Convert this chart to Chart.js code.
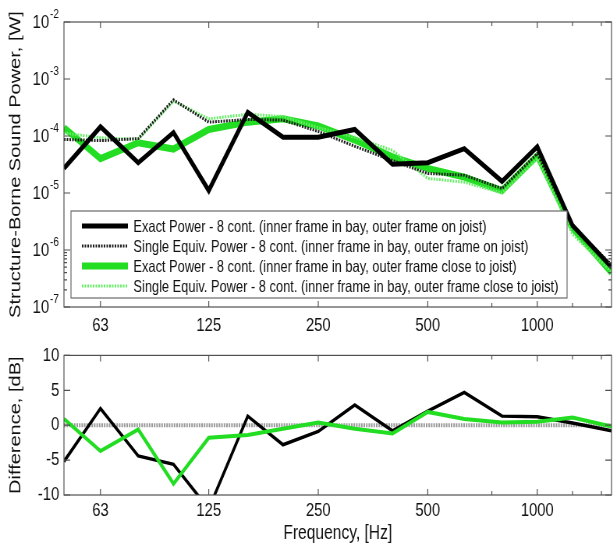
<!DOCTYPE html>
<html>
<head>
<meta charset="utf-8">
<script src="https://cdn.jsdelivr.net/npm/chart.js@4/dist/chart.umd.min.js"></script>
<style>
  html, body { margin: 0; padding: 0; background: #fff; width: 613px; height: 552px; overflow: hidden; }
  /* the figure is drawn wide and then narrowed horizontally */
  .panel { position: absolute; left: 0; transform: scaleX(0.78); transform-origin: 0 0; }
  #powerChart { top: 0; }
  #diffChart { top: 338px; }
</style>
</head>
<body>
<canvas id="powerChart" class="panel" width="786" height="338"></canvas>
<canvas id="diffChart" class="panel" width="786" height="214"></canvas>
<script>
// third-octave band centre frequencies, Hz
const freqs = [50, 63, 80, 100, 125, 160, 200, 250, 315, 400, 500, 630, 800, 1000, 1250, 1600];

// structure-borne sound power, W
const exactOnJoist     = [2.7e-5, 1.45e-4, 3.4e-5, 1.15e-4, 1.1e-5, 2.6e-4, 9.5e-5, 9.5e-5, 1.3e-4, 3.2e-5, 3.4e-5, 6.0e-5, 1.6e-5, 6.5e-5, 2.7e-6, 5.0e-7];
const singleOnJoist    = [8.7e-5, 8.3e-5, 9.0e-5, 4.3e-4, 1.75e-4, 1.95e-4, 1.9e-4, 1.2e-4, 6.6e-5, 3.7e-5, 2.2e-5, 2.05e-5, 1.2e-5, 4.9e-5, 2.6e-6, 5.5e-7];
const exactCloseJoist  = [1.4e-4, 4.0e-5, 7.6e-5, 5.9e-5, 1.3e-4, 1.75e-4, 2.0e-4, 1.5e-4, 8.5e-5, 4.3e-5, 2.7e-5, 1.9e-5, 1.1e-5, 4.5e-5, 2.4e-6, 4.0e-7];
const singleCloseJoist = [1.13e-4, 9.3e-5, 8.7e-5, 4.1e-4, 2.0e-4, 2.4e-4, 2.2e-4, 1.4e-4, 9.5e-5, 5.6e-5, 1.8e-5, 1.55e-5, 1.0e-5, 4.0e-5, 1.9e-6, 4.1e-7];

// exact minus single-equivalent power, dB
const diffOnJoist    = [-5.2, 2.4, -4.4, -5.6, -12.0, 1.3, -2.8, -0.9, 2.9, -0.8, 2.0, 4.7, 1.3, 1.2, 0.3, -0.8];
const diffCloseJoist = [0.9, -3.7, -0.6, -8.4, -1.8, -1.4, -0.5, 0.4, -0.5, -1.2, 1.9, 0.9, 0.4, 0.5, 1.1, -0.2];
const zeroRef        = [0, 0, 0, 0, 0, 0, 0, 0, 0, 0, 0, 0, 0, 0, 0, 0];

// axis ticks
const freqTicks = [63, 125, 250, 500, 1000];
const freqMinorTicks = [750, 1250, 1500];
const powerTicks = [1e-7, 1e-6, 1e-5, 1e-4, 1e-3, 1e-2];
const powerMinorTicks = [2e-7, 3e-7, 4e-7, 5e-7, 6e-7, 7e-7, 8e-7, 9e-7];
const diffTicks = [-10, -5, 0, 5, 10];

const seriesLabels = [
  'Exact Power - 8 cont. (inner frame in bay, outer frame on joist)',
  'Single Equiv. Power - 8 cont. (inner frame in bay, outer frame on joist)',
  'Exact Power - 8 cont. (inner frame in bay, outer frame close to joist)',
  'Single Equiv. Power - 8 cont. (inner frame in bay, outer frame close to joist)'
];

const FONT = "'Liberation Sans', Arial, Helvetica, sans-serif";
const TEXT = '#111';
const AXIS_W = 82;

const pts = arr => freqs.map((f, i) => ({ x: f, y: arr[i] }));

// box around the plot area with inward tick marks on all four sides
const axisFrame = {
  id: 'axisFrame',
  afterDatasetsDraw(chart, _args, o) {
    const { ctx, chartArea: a } = chart;
    const xs = chart.scales.x, ys = chart.scales.y;
    ctx.save();
    ctx.lineWidth = 1.2;
    ctx.strokeStyle = '#505050';
    ctx.setLineDash([]);
    ctx.beginPath();
    const vt = (v, len) => {
      const p = xs.getPixelForValue(v);
      ctx.moveTo(p, a.bottom); ctx.lineTo(p, a.bottom - len);
      ctx.moveTo(p, a.top); ctx.lineTo(p, a.top + len);
    };
    const ht = (v, len) => {
      const p = ys.getPixelForValue(v);
      ctx.moveTo(a.left, p); ctx.lineTo(a.left + len, p);
      ctx.moveTo(a.right, p); ctx.lineTo(a.right - len, p);
    };
    o.xMajor.forEach(v => vt(v, 6));
    (o.xMinor || []).forEach(v => vt(v, 4));
    o.yMajor.forEach(v => ht(v, 8));
    (o.yMinor || []).forEach(v => ht(v, 4));
    ctx.stroke();
    ctx.strokeRect(a.left, a.top, a.right - a.left, a.bottom - a.top);
    ctx.restore();
  }
};

// power-of-ten labels for the log axis: "10" with a raised exponent
const powerLabels = {
  id: 'powerLabels',
  afterDraw(chart) {
    const { ctx, chartArea: a } = chart;
    const ys = chart.scales.y;
    ctx.save();
    ctx.fillStyle = TEXT;
    ctx.textBaseline = 'middle';
    powerTicks.forEach(v => {
      const p = ys.getPixelForValue(v);
      const xr = a.left - 19;
      ctx.font = `19px ${FONT}`;
      ctx.textAlign = 'right';
      ctx.fillText('10', xr, p + 1);
      ctx.font = `13px ${FONT}`;
      ctx.textAlign = 'left';
      ctx.fillText(String(Math.round(Math.log10(v))), xr + 1, p - 8);
    });
    ctx.restore();
  }
};

// boxed legend inside the lower part of the power plot
const boxLegend = {
  id: 'boxLegend',
  afterDraw(chart) {
    const { ctx, chartArea: a } = chart;
    const ds = chart.data.datasets;
    const left = a.left + 9, w = 636, h = 87, top = a.bottom - 9 - h;
    ctx.save();
    ctx.fillStyle = '#fff';
    ctx.fillRect(left, top, w, h);
    ctx.strokeStyle = '#6a6a6a';
    ctx.lineWidth = 1.2;
    ctx.strokeRect(left, top, w, h);
    ctx.font = `15px ${FONT}`;
    const longest = Math.max(...ds.map(d => ctx.measureText(d.label).width));
    const size = 15 * 545 / longest;
    ctx.font = `${size}px ${FONT}`;
    ctx.textBaseline = 'middle';
    ctx.textAlign = 'left';
    ds.forEach((d, i) => {
      const y = top + 15 + i * 20;
      ctx.beginPath();
      ctx.setLineDash(d.borderDash || []);
      ctx.lineWidth = d.borderWidth;
      ctx.strokeStyle = d.borderColor;
      ctx.moveTo(left + 14, y);
      ctx.lineTo(left + 73, y);
      ctx.stroke();
      ctx.setLineDash([]);
      ctx.fillStyle = TEXT;
      ctx.fillText(d.label, left + 80, y + 1);
    });
    ctx.restore();
  }
};

const baseElements = {
  point: { radius: 0 },
  line: { tension: 0, fill: false, borderCapStyle: 'butt', borderJoinStyle: 'miter' }
};

const freqAxis = (height, pad) => ({
  type: 'logarithmic',
  min: 50,
  max: 1600,
  grid: { display: false, drawTicks: false },
  border: { display: false },
  afterBuildTicks: s => { s.ticks = freqTicks.map(v => ({ value: v })); },
  afterFit: s => { s.height = height; },
  ticks: {
    font: { family: FONT, size: 19 },
    color: TEXT,
    padding: pad,
    maxRotation: 0,
    autoSkip: false,
    callback: v => String(v)
  }
});

// upper panel: sound power on a log scale
new Chart(document.getElementById('powerChart'), {
  type: 'line',
  data: {
    datasets: [
      { label: seriesLabels[0], data: pts(exactOnJoist), borderColor: '#000000', borderWidth: 5, order: 0, clip: 0 },
      { label: seriesLabels[1], data: pts(singleOnJoist), borderColor: '#1c1c1c', borderWidth: 3, borderDash: [2, 1.5], order: 1, clip: 0 },
      { label: seriesLabels[2], data: pts(exactCloseJoist), borderColor: '#22dd22', borderWidth: 7, order: 3, clip: 0 },
      { label: seriesLabels[3], data: pts(singleCloseJoist), borderColor: '#66ee66', borderWidth: 3, borderDash: [2, 1.5], order: 2, clip: 0 }
    ]
  },
  options: {
    responsive: false,
    animation: false,
    events: [],
    layout: { padding: { top: 22, right: 2, left: 0, bottom: 0 } },
    elements: baseElements,
    plugins: {
      legend: { display: false },
      tooltip: { enabled: false },
      axisFrame: { xMajor: freqTicks, xMinor: freqMinorTicks, yMajor: powerTicks, yMinor: powerMinorTicks }
    },
    scales: {
      x: freqAxis(31, 7),
      y: {
        type: 'logarithmic',
        min: 1e-7,
        max: 1e-2,
        grid: { display: false, drawTicks: false },
        border: { display: false },
        ticks: { display: false },
        afterFit: s => { s.width = AXIS_W; },
        title: {
          display: true,
          text: 'Structure-Borne Sound Power, [W]',
          font: { family: FONT, size: 20 },
          color: TEXT,
          padding: { top: 8, bottom: 0 }
        }
      }
    }
  },
  plugins: [axisFrame, powerLabels, boxLegend]
});

// lower panel: level difference in dB
new Chart(document.getElementById('diffChart'), {
  type: 'line',
  data: {
    datasets: [
      { label: 'close to joist', data: pts(diffCloseJoist), borderColor: '#22dd22', borderWidth: 4, order: 0, clip: 0 },
      { label: 'on joist', data: pts(diffOnJoist), borderColor: '#000000', borderWidth: 3.5, order: 1, clip: 0 },
      { label: 'reference', data: pts(zeroRef), borderColor: '#9a9a9a', borderWidth: 4, borderDash: [2, 1.2], order: 2, clip: 0 }
    ]
  },
  options: {
    responsive: false,
    animation: false,
    events: [],
    layout: { padding: { top: 15, right: 2, left: 0, bottom: 0 } },
    elements: baseElements,
    plugins: {
      legend: { display: false },
      tooltip: { enabled: false },
      axisFrame: { xMajor: freqTicks, xMinor: freqMinorTicks, yMajor: diffTicks }
    },
    scales: {
      x: Object.assign(freqAxis(57, 4), {
        title: {
          display: true,
          text: 'Frequency, [Hz]',
          font: { family: FONT, size: 20 },
          color: TEXT,
          padding: { top: 0, bottom: 7 }
        }
      }),
      y: {
        type: 'linear',
        min: -10,
        max: 10,
        grid: { display: false, drawTicks: false },
        border: { display: false },
        afterBuildTicks: s => { s.ticks = diffTicks.map(v => ({ value: v })); },
        afterFit: s => { s.width = AXIS_W; },
        ticks: { font: { family: FONT, size: 19 }, color: TEXT, padding: 6, callback: v => String(v) },
        title: {
          display: true,
          text: 'Difference, [dB]',
          font: { family: FONT, size: 20 },
          color: TEXT,
          padding: { top: 8, bottom: 0 }
        }
      }
    }
  },
  plugins: [axisFrame]
});
</script>
</body>
</html>
